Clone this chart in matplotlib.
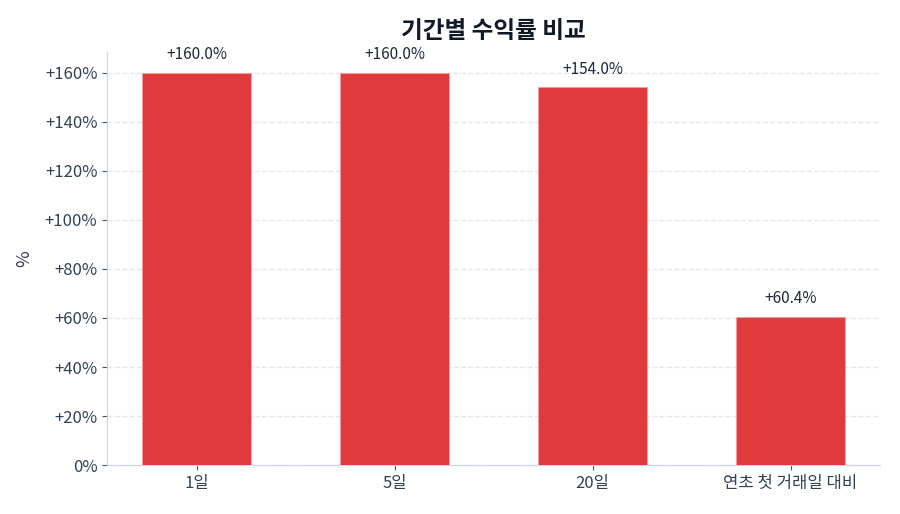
import matplotlib.pyplot as plt
from matplotlib.ticker import FuncFormatter

periods = ["1일", "5일", "20일", "연초 첫 거래일 대비"]
returns = [160.0, 160.0, 154.0, 60.4]

BAR_COLOR = "#e03a3c"
TEXT_COLOR = "#334155"

plt.rcParams["font.family"] = ["Noto Sans CJK KR", "DejaVu Sans"]


def main() -> None:
    fig, ax = plt.subplots(figsize=(9, 5.14), dpi=100)
    fig.subplots_adjust(left=0.119, right=0.978, top=0.899, bottom=0.095)

    x = list(range(len(periods)))
    bars = ax.bar(x, returns, width=0.55, color=BAR_COLOR, edgecolor="#f0a0a0", linewidth=0.6, zorder=3)

    for bar, val in zip(bars, returns):
        ax.annotate(f"{val:+.1f}%", (bar.get_x() + bar.get_width() / 2, val),
                    xytext=(0, 7), textcoords="offset points",
                    ha="center", va="bottom", fontsize=11, color="#1f2937")

    ax.set_xticks(x)
    ax.set_xticklabels(periods)
    ax.set_ylim(0, max(returns) * 1.053)
    ax.set_yticks(range(0, 161, 20))
    ax.yaxis.set_major_formatter(FuncFormatter(lambda v, _: "0%" if v == 0 else f"{v:+.0f}%"))

    ax.set_ylabel("%", fontsize=13, color=TEXT_COLOR, labelpad=8)
    ax.set_title("기간별 수익률 비교", fontsize=17, fontweight="bold", color="#111827", pad=10)

    ax.grid(axis="y", linestyle="--", color="#e5e7eb", linewidth=1, zorder=0)
    ax.tick_params(axis="both", labelsize=12, colors=TEXT_COLOR)
    ax.tick_params(axis="both", color="#475569")
    for side in ("top", "right"):
        ax.spines[side].set_visible(False)
    for side in ("left", "bottom"):
        ax.spines[side].set_color("#cbd5e1")

    fig.savefig("out.png", dpi=100)


if __name__ == "__main__":
    main()
